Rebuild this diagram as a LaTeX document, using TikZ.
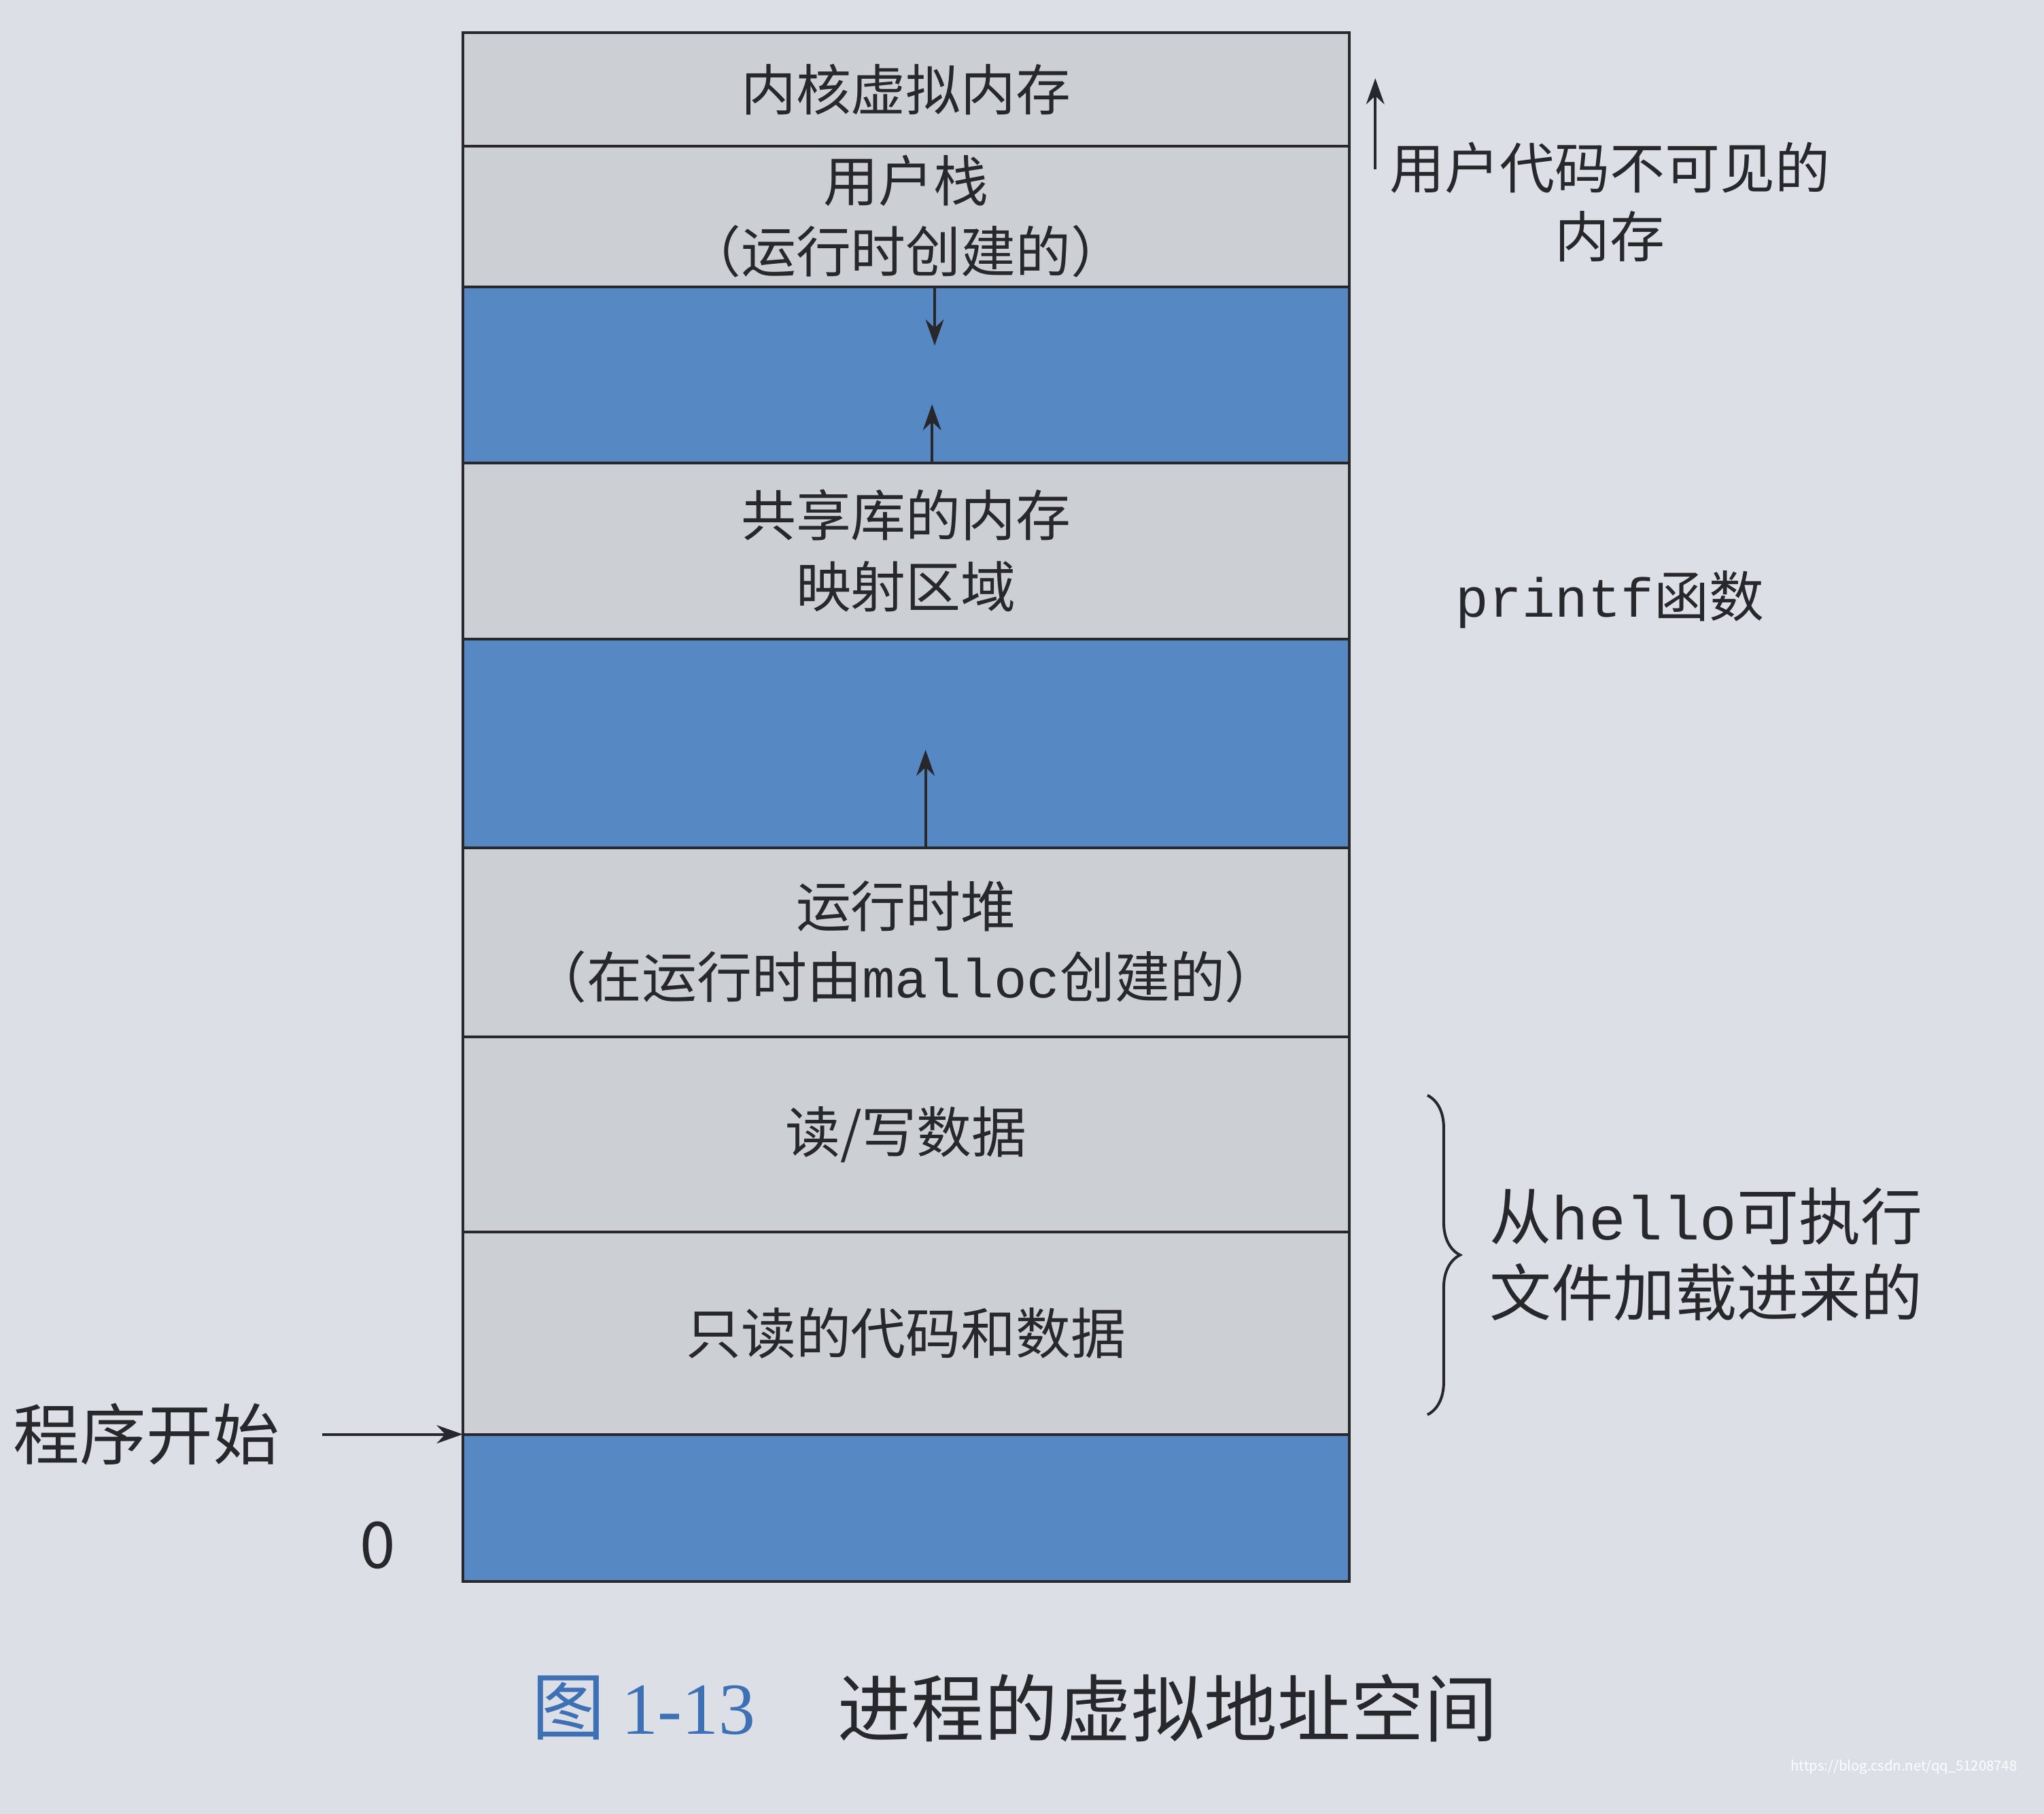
\documentclass[tikz,border=0pt]{standalone}
\usepackage{fontspec}
\setmainfont{Noto Sans CJK SC}
\setmonofont{Liberation Mono}
\newfontfamily\capserif{Liberation Serif}
\usepackage{tikz}
\usetikzlibrary{positioning,decorations.pathreplacing,arrows.meta}

\definecolor{pagebg}{RGB}{220,224,230}
\definecolor{seggray}{RGB}{204,207,211}
\definecolor{segblue}{RGB}{86,136,196}
\definecolor{capblue}{RGB}{62,112,182}
\definecolor{inkdark}{RGB}{40,40,44}

\begin{document}
\begin{tikzpicture}[->,>={Stealth[length=2mm,width=1.4mm]},semithick,inkdark,
      seg/.style={draw,fill=seggray,outer sep=0pt,inner sep=1pt,minimum width=6.8cm,align=center,font=\fontsize{12}{15.5}\selectfont},
      gapseg/.style={seg,fill=segblue},
      lbl/.style={align=center,font=\fontsize{12}{15}\selectfont}]
			\useasboundingbox (0,0) rectangle (15.68,-13.91);
			\fill[pagebg] (0,0) rectangle (15.68,-13.91);
			\node[seg,minimum height=0.87cm] (kern) at (6.95,-0.685) {内核虚拟内存};
			\node[seg,minimum height=1.08cm] (ustack) [below=0pt of kern] {用户栈\\（运行时创建的）};
			\node[gapseg,minimum height=1.35cm] (gap1) [below=0pt of ustack] {};
			\node[seg,minimum height=1.35cm] (shlib) [below=0pt of gap1] {共享库的内存\\映射区域};
			\node[gapseg,minimum height=1.6cm] (gap2) [below=0pt of shlib] {};
			\node[seg,minimum height=1.45cm] (heap) [below=0pt of gap2] {运行时堆\\（在运行时由\texttt{malloc}创建的）};
			\node[seg,minimum height=1.5cm] (rwdata) [below=0pt of heap] {读/写数据};
			\node[seg,minimum height=1.55cm] (rocode) [below=0pt of rwdata] {只读的代码和数据};
			\node[gapseg,minimum height=1.13cm] (gap3) [below=0pt of rocode] {};
			% arrows inside the gaps
			\coordinate (sdown) at ([xshift=0.22cm,yshift=-0.45cm]gap1.north);
			\coordinate (lup) at ([xshift=0.2cm,yshift=0.45cm]gap1.south);
			\coordinate (hup) at ([xshift=0.15cm,yshift=0.75cm]gap2.south);
			\draw ([xshift=0.22cm]gap1.north) -- (sdown);
			\draw ([xshift=0.2cm]gap1.south) -- (lup);
			\draw ([xshift=0.15cm]gap2.south) -- (hup);
			% labels on the right
			\node[lbl] (hidden) at (12.35,-1.55) {用户代码不可见的\\内存};
			\coordinate (hbot) at (10.55,-1.3);
			\coordinate (htop) at (10.55,-0.6);
			\draw (hbot) -- (htop);
			\node[lbl] (printf) at (12.35,-4.6) {\texttt{printf}函数};
			\draw[-,decorate,decoration={brace,amplitude=0.25cm}] (10.95,-8.4) -- (10.95,-10.85);
			\node[lbl,anchor=west,font=\fontsize{13.5}{16.5}\selectfont] (loaded) at (11.3,-9.62) {从\texttt{hello}可执行\\文件加载进来的};
			% left side
			\node[lbl,font=\fontsize{14.5}{18}\selectfont] (start) [left=1.28cm of gap3.north west] {程序开始};
			\draw ([xshift=0.2cm]start.east) -- (gap3.north west);
			\node[lbl,font=\fontsize{14}{18}\selectfont] (zero) at (2.9,-11.85) {0};
			% caption
			\node[anchor=west,text=capblue,font=\fontsize{16}{20}\selectfont] (capnum) at (3.95,-13.1) {图 {\capserif 1-13}};
			\node[anchor=west,font=\fontsize{16}{20}\selectfont] (captxt) at (6.3,-13.1) {进程的虚拟地址空间};
			\node[anchor=east,text=white,font=\fontsize{3}{4}\selectfont] (mark) at (15.6,-13.55) {https://blog.csdn.net/qq\_51208748};
		\end{tikzpicture}
\end{document}
